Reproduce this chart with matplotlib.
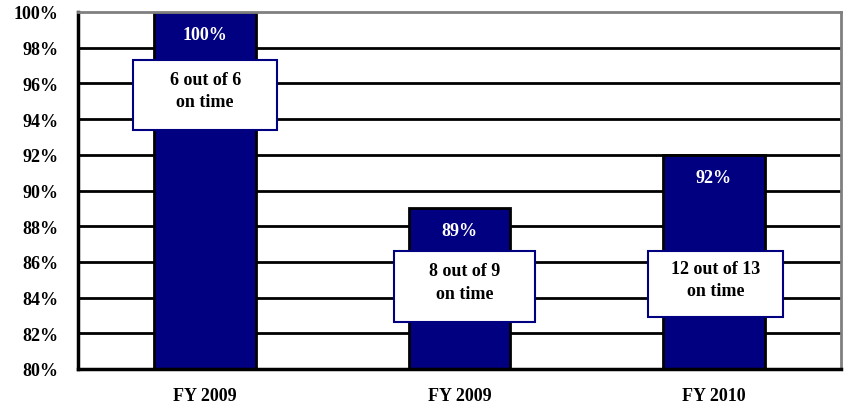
import numpy as np
import matplotlib
matplotlib.use("Agg")
import matplotlib.pyplot as plt
from matplotlib.patches import Rectangle

# on-time percentages per fiscal year
categories = ["FY 2009", "FY 2009", "FY 2010"]
values = [100, 89, 92]
value_labels = ["100%", "89%", "92%"]
box_labels = ["6 out of 6\non time", "8 out of 9\non time", "12 out of 13\non time"]

# callout boxes: (x center, y center, width, height) in data units
boxes = [(0.0, 95.35, 0.566, 3.93), (1.02, 84.63, 0.555, 3.99), (2.007, 84.76, 0.53, 3.7)]

navy = "#000080"
plt.rcParams["font.family"] = ["Liberation Serif", "DejaVu Serif"]
plt.rcParams["font.weight"] = "bold"

fig = plt.figure(figsize=(8.45, 4.10), dpi=100)
ax = fig.add_axes([78 / 845, 1 - 370 / 410, (841 - 78) / 845, (370 - 13) / 410])

x = np.arange(len(categories))
ax.set_ylim(80, 100)
ax.set_xlim(-0.5, 2.5)
ax.set_yticks(np.arange(80, 101, 2))
ax.set_yticklabels([f"{v}%" for v in range(80, 101, 2)], fontsize=13, fontweight="bold")
for v in range(82, 100, 2):
    ax.axhline(v, color="black", lw=2, zorder=1)

ax.bar(x, [v - 80 for v in values], bottom=80, width=0.4, color=navy,
       edgecolor="black", linewidth=2, zorder=2)

for xi, v, lab in zip(x, values, value_labels):
    ax.text(xi, v - 1.25, lab, ha="center", va="center", color="white",
            fontsize=13, fontweight="bold", zorder=4)

for (bx, by, bw, bh), lab in zip(boxes, box_labels):
    ax.add_patch(Rectangle((bx - bw / 2, by - bh / 2), bw, bh, fc="white",
                           ec=navy, lw=1.5, zorder=5))
    ax.text(bx, by + 0.25, lab, ha="center", va="center", color="black",
            fontsize=13, fontweight="bold", linespacing=1.45, zorder=6)

ax.set_xticks(x)
ax.set_xticklabels(categories, fontsize=13, fontweight="bold")
ax.tick_params(axis="x", length=0, pad=13)
ax.tick_params(axis="y", length=0, pad=14)

ax.spines["left"].set_color("black")
ax.spines["left"].set_linewidth(2.5)
ax.spines["bottom"].set_color("black")
ax.spines["bottom"].set_linewidth(2.5)
ax.spines["top"].set_color("#808080")
ax.spines["top"].set_linewidth(2)
ax.spines["right"].set_color("#808080")
ax.spines["right"].set_linewidth(2)

fig.savefig("out.png", dpi=100)
